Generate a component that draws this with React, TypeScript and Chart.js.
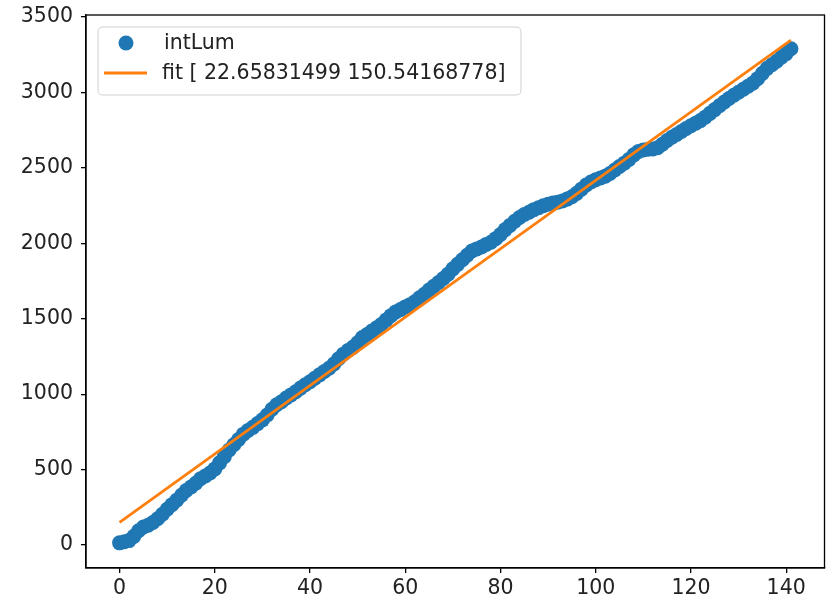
import React, { useEffect, useRef } from 'react';
import { Chart, registerables } from 'chart.js';

Chart.register(...registerables);

// intLum values, one per frame index 0..141
const intLum = [
  15, 22, 30, 58, 95, 120, 132, 150, 175, 205,
  238, 268, 298, 330, 362, 385, 410, 440, 458, 478,
  505, 545, 585, 630, 665, 700, 735, 760, 780, 805,
  830, 862, 900, 930, 950, 975, 995, 1016, 1040, 1062,
  1082, 1105, 1128, 1150, 1172, 1200, 1235, 1265, 1290, 1310,
  1340, 1375, 1395, 1418, 1440, 1462, 1492, 1520, 1545, 1560,
  1578, 1593, 1612, 1638, 1662, 1690, 1715, 1740, 1766, 1795,
  1830, 1860, 1890, 1920, 1948, 1962, 1975, 1992, 2006, 2030,
  2058, 2090, 2118, 2145, 2170, 2190, 2205, 2222, 2235, 2248,
  2258, 2266, 2272, 2280, 2292, 2308, 2330, 2358, 2385, 2405,
  2420, 2432, 2444, 2462, 2485, 2508, 2530, 2555, 2585, 2608,
  2618, 2622, 2624, 2632, 2655, 2680, 2702, 2720, 2740, 2760,
  2778, 2795, 2812, 2835, 2860, 2885, 2910, 2935, 2958, 2980,
  3000, 3020, 3040, 3060, 3090, 3125, 3158, 3182, 3205, 3232,
  3256, 3288,
];

const fitCoeffs = [22.65831499, 150.54168778];
const fitRange = [0, 141];
const seriesLabels = ['intLum', 'fit [ 22.65831499 150.54168778]'];
const xTicks = [0, 20, 40, 60, 80, 100, 120, 140];
const yTicks = [0, 500, 1000, 1500, 2000, 2500, 3000, 3500];
const xLimits = [-7.05, 148.05];
const yLimits = [-151.5, 3511.5];

const BLUE = '#1f77b4';
const ORANGE = '#ff7f0e';
const FONT = '"DejaVu Sans", sans-serif';
const FONT_SIZE = 20.5;

const framePlugin = {
  id: 'mplFrame',
  afterDraw(chart: any) {
    const { ctx, chartArea } = chart;
    ctx.save();
    ctx.strokeStyle = '#000';
    ctx.lineWidth = 1.3;
    ctx.strokeRect(chartArea.left, chartArea.top, chartArea.right - chartArea.left, chartArea.bottom - chartArea.top);
    // legend
    const x = chartArea.left + 12, y = chartArea.top + 12, w = 423, h = 68, r = 5;
    ctx.beginPath();
    ctx.moveTo(x + r, y);
    ctx.lineTo(x + w - r, y);
    ctx.quadraticCurveTo(x + w, y, x + w, y + r);
    ctx.lineTo(x + w, y + h - r);
    ctx.quadraticCurveTo(x + w, y + h, x + w - r, y + h);
    ctx.lineTo(x + r, y + h);
    ctx.quadraticCurveTo(x, y + h, x, y + h - r);
    ctx.lineTo(x, y + r);
    ctx.quadraticCurveTo(x, y, x + r, y);
    ctx.closePath();
    ctx.fillStyle = 'rgba(255,255,255,0.8)';
    ctx.fill();
    ctx.strokeStyle = '#d0d0d0';
    ctx.lineWidth = 1;
    ctx.stroke();
    const row1 = y + 16, row2 = y + 46;
    ctx.fillStyle = BLUE;
    ctx.beginPath();
    ctx.arc(x + 28, row1, 7.5, 0, Math.PI * 2);
    ctx.fill();
    ctx.strokeStyle = ORANGE;
    ctx.lineWidth = 2.8;
    ctx.beginPath();
    ctx.moveTo(x + 6, row2);
    ctx.lineTo(x + 49, row2);
    ctx.stroke();
    ctx.fillStyle = '#222';
    ctx.font = `${FONT_SIZE}px ${FONT}`;
    ctx.textBaseline = 'middle';
    ctx.textAlign = 'left';
    ctx.fillText(seriesLabels[0], x + 66, row1 + 1);
    ctx.fillText(seriesLabels[1], x + 64, row2 + 1);
    ctx.restore();
  },
};

export default function App() {
  const ref = useRef<HTMLCanvasElement>(null);
  useEffect(() => {
    if (!ref.current) return;
    const points = intLum.map((v, i) => ({ x: i, y: v }));
    const fitPts = fitRange.map((x) => ({ x, y: fitCoeffs[0] * x + fitCoeffs[1] }));
    const chart = new Chart(ref.current, {
      type: 'scatter',
      data: {
        datasets: [
          {
            label: seriesLabels[1],
            data: fitPts,
            showLine: true,
            borderColor: ORANGE,
            backgroundColor: ORANGE,
            borderWidth: 2.8,
            pointRadius: 0,
            order: 0,
          } as any,
          {
            label: seriesLabels[0],
            data: points,
            backgroundColor: BLUE,
            borderWidth: 0,
            pointRadius: 7.5,
            pointHoverRadius: 7.5,
            order: 1,
          },
        ],
      },
      options: {
        animation: false,
        responsive: false,
        devicePixelRatio: 1,
        layout: { padding: { top: 15, right: 3, left: 0, bottom: 0 } },
        plugins: { legend: { display: false }, tooltip: { enabled: false } },
        scales: {
          x: {
            type: 'linear',
            min: xLimits[0],
            max: xLimits[1],
            afterBuildTicks: (s: any) => { s.ticks = xTicks.map((v) => ({ value: v })); },
            afterFit: (s: any) => { s.height = 38; s.paddingLeft = 0; s.paddingRight = 0; },
            grid: { display: true, drawOnChartArea: false, drawTicks: true, tickLength: 5, color: '#000', lineWidth: 1.3 },
            border: { display: true, color: '#000', width: 1.3 },
            ticks: { color: '#222', font: { family: FONT, size: FONT_SIZE }, padding: 3, maxRotation: 0, autoSkip: false, callback: (v: any) => String(v) },
          },
          y: {
            type: 'linear',
            min: yLimits[0],
            max: yLimits[1],
            afterBuildTicks: (s: any) => { s.ticks = yTicks.map((v) => ({ value: v })); },
            afterFit: (s: any) => { s.width = 86; s.paddingTop = 0; s.paddingBottom = 0; },
            grid: { display: true, drawOnChartArea: false, drawTicks: true, tickLength: 5, color: '#000', lineWidth: 1.3 },
            border: { display: true, color: '#000', width: 1.3 },
            ticks: { color: '#222', font: { family: FONT, size: FONT_SIZE }, padding: 8, autoSkip: false, callback: (v: any) => String(v) },
          },
        },
      },
      plugins: [framePlugin],
    });
    return () => chart.destroy();
  }, []);
  return (
    <div style={{ position: 'fixed', left: 0, top: 0, width: 832, height: 606, background: '#fff' }}>
      <canvas ref={ref} width={832} height={606} style={{ display: 'block' }} />
    </div>
  );
}
